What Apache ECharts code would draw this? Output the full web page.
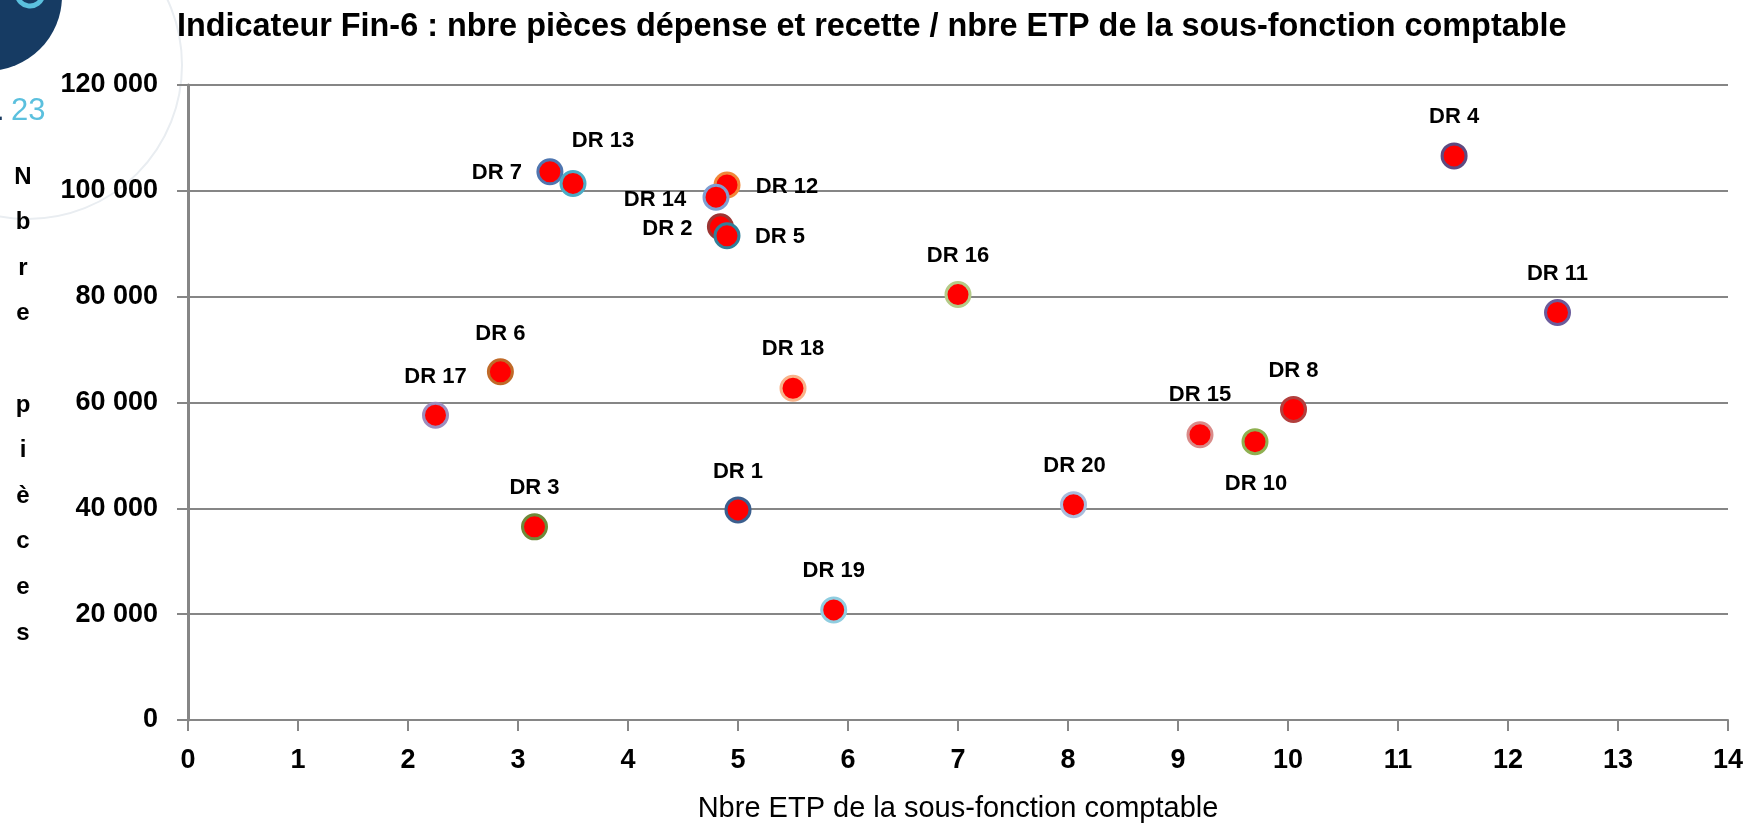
<!DOCTYPE html>
<html>
<head>
<meta charset="utf-8">
<script src="https://cdn.jsdelivr.net/npm/echarts@6/dist/echarts.min.js"></script>
<style>
html,body{margin:0;padding:0;background:#fff;overflow:hidden;}
#chart{width:1762px;height:824px;}
</style>
</head>
<body>
<div id="chart"></div>
<script>
// ---- data ----
const names  = ['DR 1','DR 2','DR 3','DR 4','DR 5','DR 6','DR 7','DR 8','DR 10','DR 11','DR 12','DR 13','DR 14','DR 15','DR 16','DR 17','DR 18','DR 19','DR 20'];
const etp    = [5.00, 4.84, 3.15, 11.51, 4.90, 2.84, 3.29, 10.05, 9.70, 12.45, 4.90, 3.50, 4.80, 9.20, 7.00, 2.25, 5.50, 5.87, 8.05];
const pieces = [39700, 93200, 36500, 106600, 91500, 65800, 103600, 58700, 52600, 77000, 101100, 101400, 98800, 53900, 80400, 57600, 62700, 20800, 40700];
const xTicks = [0,1,2,3,4,5,6,7,8,9,10,11,12,13,14];
const yTicks = [0,20000,40000,60000,80000,100000,120000];

// ---- styles (kept apart from the data) ----
const borderColors = ['#3B5F8E','#9C3533','#6F8A3A','#5E4A80','#31809A','#C06A28','#4F76B0','#B23F3D','#8FB051','#6B5B9B','#F0883A','#4BACC6','#7E9ED1','#D98B89','#B4CB88','#9D8DBE','#F8B38A','#8FCDE0','#A9BCDD'];
const labelOffsets = [[0,-38],[-53,2],[0,-39],[0,-39],[53,1],[0,-38],[-53,1],[0,-38],[1,42],[0,-39],[60,2],[30,-42],[-61,3],[0,-40],[0,-39],[0,-38],[0,-39],[0,-39],[1,-39]];

const FONT = 'Liberation Sans';
const grey = '#868686';

const data = names.map((n, i) => ({
  name: n,
  value: [etp[i], pieces[i]],
  itemStyle: { borderColor: borderColors[i] },
  label: { offset: labelOffsets[i] }
}));

function fmt(v){ return String(v).replace(/\B(?=(\d{3})+(?!\d))/g, ' '); }

const chart = echarts.init(document.getElementById('chart'), null, {renderer:'canvas'});
chart.setOption({
  animation: false,
  backgroundColor: '#ffffff',
  title: {
    text: 'Indicateur Fin-6 : nbre pièces dépense et recette / nbre ETP de la sous-fonction comptable',
    left: 172, top: 6,
    textStyle: { fontFamily: FONT, fontWeight: 'bold', fontSize: 32.4, color: '#000' }
  },
  grid: { left: 188, right: 34, top: 85, bottom: 104, containLabel: false, outerBoundsMode: 'none' },
  xAxis: {
    type: 'value', min: xTicks[0], max: xTicks[xTicks.length-1], interval: 1,
    name: 'Nbre ETP de la sous-fonction comptable',
    nameLocation: 'middle', nameGap: 74,
    nameTextStyle: { fontFamily: FONT, fontSize: 29, color: '#000' },
    axisLine: { show: true, lineStyle: { color: grey, width: 2 } },
    axisTick: { show: true, length: 11, lineStyle: { color: grey, width: 2 } },
    axisLabel: { margin: 27, fontFamily: FONT, fontWeight: 'bold', fontSize: 27, color: '#000' },
    splitLine: { show: false }
  },
  yAxis: {
    type: 'value', min: yTicks[0], max: yTicks[yTicks.length-1], interval: 20000,
    axisLine: { show: true, lineStyle: { color: grey, width: 3 } },
    axisTick: { show: true, length: 11, lineStyle: { color: grey, width: 2 } },
    axisLabel: { margin: 30, fontFamily: FONT, fontWeight: 'bold', fontSize: 27, color: '#000', formatter: fmt },
    splitLine: { show: true, lineStyle: { color: grey, width: 2 } }
  },
  series: [{
    type: 'scatter',
    symbol: 'circle',
    symbolSize: 24,
    itemStyle: { color: '#FF0000', borderWidth: 3, opacity: 1 },
    label: {
      show: true, position: 'inside', formatter: '{b}',
      fontFamily: FONT, fontWeight: 'bold', fontSize: 22, color: '#000'
    },
    emphasis: { disabled: true },
    data: data
  }],
  graphic: [
    { type: 'circle', z: -1, silent: true, shape: { cx: 28, cy: 65, r: 154 },
      style: { fill: 'none', stroke: '#e9edf1', lineWidth: 2 } },
    { type: 'circle', silent: true, z: 5, shape: { cx: -13, cy: -4, r: 75 },
      style: { fill: '#163b63', stroke: 'none' } },
    { type: 'arc', silent: true, z: 6, shape: { cx: 30, cy: -7, r: 13, startAngle: 0.15, endAngle: Math.PI - 0.15, clockwise: true },
      style: { stroke: '#5BC0DE', lineWidth: 5, fill: 'none' } },
    { type: 'text', silent: true, x: 11, y: 111,
      style: { text: '23', fontFamily: FONT, fontSize: 31, fill: '#5BC0DE', align: 'left', verticalAlign: 'middle' } },
    { type: 'text', silent: true, x: -4, y: 111,
      style: { text: '.', fontFamily: FONT, fontSize: 31, fill: '#1a3a60', align: 'left', verticalAlign: 'middle' } },
    { type: 'text', silent: true, x: 23, y: 405,
      style: { text: 'N\nb\nr\ne\n\np\ni\nè\nc\ne\ns', fontFamily: FONT, fontWeight: 'bold', fontSize: 24,
               lineHeight: 45.6, fill: '#000', align: 'center', verticalAlign: 'middle' } }
  ]
});
</script>
</body>
</html>
